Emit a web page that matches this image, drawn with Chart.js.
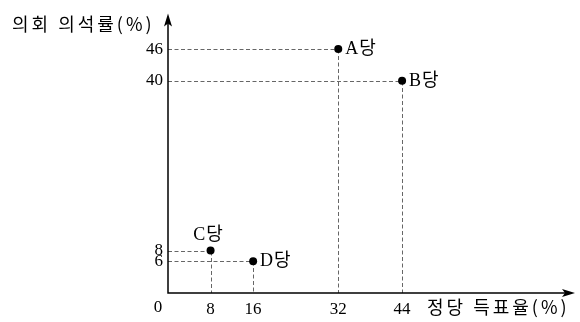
<!DOCTYPE html>
<html><head><meta charset="utf-8">
<script src="https://cdn.jsdelivr.net/npm/chart.js@4/dist/chart.umd.min.js"></script>
<style>html,body{margin:0;padding:0;background:#fff;}canvas{display:block;}</style>
</head><body>
<canvas id="c" width="580" height="322"></canvas>
<script>
// ---- data ----
const parties = ['A당', 'B당', 'C당', 'D당'];
const voteShare = [32, 44, 8, 16];   // 정당 득표율(%)
const seatShare = [46, 40, 8, 6];    // 의회 의석률(%)
const xTickValues = [8, 16, 32, 44];
const yTickValues = [6, 8, 40, 46];
const originLabel = '0';
const xAxisTitle = '정당 득표율(%)';
const yAxisTitle = '의회 의석률(%)';

const NUM_FONT = "17px 'Liberation Serif', 'Noto Sans CJK KR'";
const LBL_FONT = "18px 'Liberation Serif', 'Noto Sans CJK KR'";
const KO_FONT = "18px 'Noto Sans CJK KR'";

const decor = {
  id: 'decor',
  beforeDatasetsDraw(chart) {
    const { ctx, scales: { x, y }, chartArea } = chart;
    const x0 = Math.round(x.getPixelForValue(0));
    const y0 = Math.round(y.getPixelForValue(0));
    ctx.save();
    // dashed guides
    ctx.strokeStyle = '#666';
    ctx.lineWidth = 1;
    ctx.setLineDash([4, 2.5]);
    voteShare.forEach((v, i) => {
      const px = Math.round(x.getPixelForValue(v)) + 0.5;
      const py = Math.round(y.getPixelForValue(seatShare[i])) + 0.5;
      ctx.beginPath();
      ctx.moveTo(x0, py); ctx.lineTo(px, py);
      ctx.stroke();
      ctx.beginPath();
      ctx.moveTo(px, py); ctx.lineTo(px, y0);
      ctx.stroke();
    });
    ctx.setLineDash([]);
    // axes with arrows
    ctx.strokeStyle = '#000';
    ctx.fillStyle = '#000';
    ctx.lineWidth = 1.5;
    const top = chartArea.top, right = chartArea.right;
    ctx.beginPath();
    ctx.moveTo(x0, y0 + 0.75); ctx.lineTo(x0, top + 6);
    ctx.moveTo(x0 - 0.75, y0); ctx.lineTo(right - 6, y0);
    ctx.stroke();
    ctx.beginPath();
    ctx.moveTo(x0, top); ctx.lineTo(x0 - 4, top + 13); ctx.lineTo(x0, top + 10); ctx.lineTo(x0 + 4, top + 13); ctx.closePath();
    ctx.fill();
    ctx.beginPath();
    ctx.moveTo(right, y0); ctx.lineTo(right - 13, y0 - 4); ctx.lineTo(right - 10, y0); ctx.lineTo(right - 13, y0 + 4); ctx.closePath();
    ctx.fill();
    // origin label
    ctx.font = NUM_FONT;
    ctx.textAlign = 'center';
    ctx.textBaseline = 'middle';
    ctx.fillText(originLabel, x0 - 10, y0 + 15);
    // axis titles
    ctx.font = KO_FONT;
    ctx.letterSpacing = '3px';
    ctx.textAlign = 'left';
    ctx.fillText(yAxisTitle, 12, top + 11);
    ctx.fillText(xAxisTitle, 427, y0 + 14);
    ctx.restore();
  },
  afterDatasetsDraw(chart) {
    const { ctx } = chart;
    const meta = chart.getDatasetMeta(0);
    ctx.save();
    ctx.font = LBL_FONT;
    ctx.letterSpacing = '1px';
    ctx.fillStyle = '#000';
    ctx.textBaseline = 'middle';
    meta.data.forEach((pt, i) => {
      if (seatShare[i] === 8 && voteShare[i] === 8) {
        ctx.textAlign = 'center';
        ctx.fillText(parties[i], pt.x - 2, pt.y - 15);
      } else {
        ctx.textAlign = 'left';
        ctx.fillText(parties[i], pt.x + 7, pt.y);
      }
    });
    ctx.restore();
  }
};

new Chart(document.getElementById('c'), {
  type: 'scatter',
  data: {
    datasets: [{
      data: voteShare.map((v, i) => ({ x: v, y: seatShare[i] })),
      backgroundColor: '#000',
      borderColor: '#000',
      borderWidth: 0,
      pointRadius: 4,
      clip: false
    }]
  },
  options: {
    responsive: false,
    animation: false,
    devicePixelRatio: 1,
    layout: { padding: { top: 12, right: 5, left: 0, bottom: 0 } },
    plugins: { legend: { display: false }, tooltip: { enabled: false } },
    scales: {
      x: {
        type: 'linear', min: 0, max: 76.5,
        grid: { display: false, drawTicks: false },
        border: { display: false },
        afterBuildTicks: s => { s.ticks = xTickValues.map(v => ({ value: v })); },
        afterFit: s => { s.height = 29; },
        ticks: { font: { family: "'Liberation Serif'", size: 17, lineHeight: 1 }, color: '#000', padding: 8, maxRotation: 0, autoSkip: false }
      },
      y: {
        type: 'linear', min: 0, max: 52.7,
        grid: { display: false, drawTicks: false },
        border: { display: false },
        afterBuildTicks: s => { s.ticks = yTickValues.map(v => ({ value: v })); },
        afterFit: s => { s.width = 168; },
        ticks: { font: { family: "'Liberation Serif'", size: 17, lineHeight: 1 }, color: '#000', padding: 5, autoSkip: false }
      }
    }
  },
  plugins: [decor]
});
</script>
</body></html>
